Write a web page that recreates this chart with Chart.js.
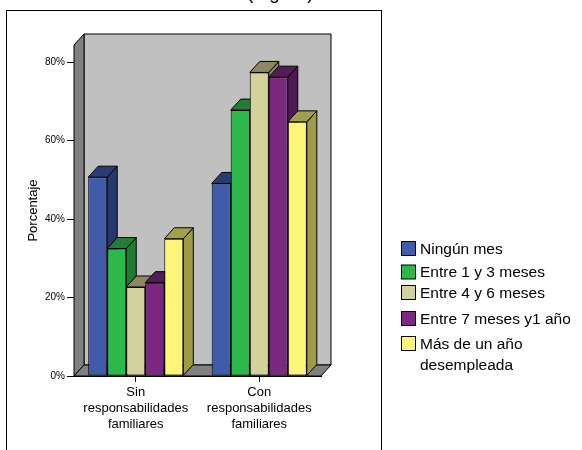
<!DOCTYPE html>
<html>
<head>
<meta charset="utf-8">
<script src="https://cdn.jsdelivr.net/npm/chart.js@4.4.1/dist/chart.umd.min.js"></script>
<style>
  body { margin: 0; background: #fff; }
  #wrap { position: relative; width: 582px; height: 450px; }
</style>
</head>
<body>
<div id="wrap"><canvas id="desempleoChart" width="582" height="450"></canvas></div>
<script>
// ===== DATOS =====
const categories = [
  ["Sin", "responsabilidades", "familiares"],
  ["Con", "responsabilidades", "familiares"],
];
const seriesNames = [
  "Ningún mes",
  "Entre 1 y 3 meses",
  "Entre 4 y 6 meses",
  "Entre 7 meses y1 año",
  ["Más de un año", "desempleada"],
];
const ningunMes = [50.7, 49.1];
const entre1y3 = [32.5, 67.8];
const entre4y6 = [22.7, 77.4];
const entre7y12 = [23.8, 76.2];
const masDeUnAno = [35.0, 64.8];
const yTicks = [0, 20, 40, 60, 80];

// colores: cara frontal, lateral, superior
const frontColors = ["#3f5baa", "#2db84b", "#d5d19c", "#7d2880", "#fbf677"];
const sideColors = ["#27386e", "#1f7a32", "#8a875f", "#4f1a53", "#9e9a48"];
const topColors = ["#2a3c76", "#237d35", "#8c8962", "#541d58", "#a3a04b"];

const DX = 10; // profundidad 3D
const DY = -11;
const FONT = "Arial, 'Liberation Sans', sans-serif";

// posiciones del legend (filas irregulares como en la figura)
const legendRowY = [248.5, 272, 292.5, 318.5, 343.5];

function poly(ctx, pts, fill) {
  ctx.beginPath();
  ctx.moveTo(pts[0][0], pts[0][1]);
  for (let i = 1; i < pts.length; i++) ctx.lineTo(pts[i][0], pts[i][1]);
  ctx.closePath();
  ctx.fillStyle = fill;
  ctx.fill();
  ctx.strokeStyle = "#000";
  ctx.lineWidth = 1;
  ctx.stroke();
}

/* ===== PAREDES + CARAS 3D ===== */
const box3d = {
  id: "box3d",
  beforeDatasetsDraw(chart) {
    const ctx = chart.ctx;
    const a = chart.chartArea;
    const L = a.left, R = a.right, T = a.top, B = a.bottom;
    ctx.save();
    // pared trasera
    poly(ctx, [[L + DX, T + DY], [R + DX, T + DY], [R + DX, B + DY], [L + DX, B + DY]], "#c0c0c0");
    // pared izquierda
    poly(ctx, [[L, T], [L + DX, T + DY], [L + DX, B + DY], [L, B]], "#808080");
    // suelo
    poly(ctx, [[L, B], [L + DX, B + DY], [R + DX, B + DY], [R, B]], "#808080");

    // caras laterales y superiores, de izquierda a derecha
    let bars = [];
    chart.data.datasets.forEach((ds, i) => {
      chart.getDatasetMeta(i).data.forEach((el) => {
        bars.push({ el: el, i: i });
      });
    });
    bars.sort((p, q) => p.el.x - q.el.x);
    bars.forEach((b) => {
      const el = b.el;
      const xl = el.x - el.width / 2;
      const xr = el.x + el.width / 2;
      const yt = el.y;
      const yb = el.base;
      poly(ctx, [[xr, yt], [xr + DX, yt + DY], [xr + DX, yb + DY], [xr, yb]], sideColors[b.i]);
      poly(ctx, [[xl, yt], [xl + DX, yt + DY], [xr + DX, yt + DY], [xr, yt]], topColors[b.i]);
    });
    ctx.restore();
  },
  afterDraw(chart) {
    const ctx = chart.ctx;
    const a = chart.chartArea;
    ctx.save();
    // marco
    ctx.strokeStyle = "#000";
    ctx.lineWidth = 1;
    ctx.strokeRect(6.5, 10.5, 375, 460);

    // titulo (cortado arriba)
    ctx.fillStyle = "#000";
    ctx.font = "19px " + FONT;
    ctx.textAlign = "left";
    ctx.textBaseline = "alphabetic";
    ctx.fillText("(Figura)", 247, -1);

    // titulo eje Y
    ctx.save();
    ctx.translate(33, (a.top + a.bottom) / 2);
    ctx.rotate(-Math.PI / 2);
    ctx.font = "13px " + FONT;
    ctx.textAlign = "center";
    ctx.textBaseline = "middle";
    ctx.fillText("Porcentaje", 0, 0);
    ctx.restore();

    // leyenda
    ctx.font = "15.5px " + FONT;
    ctx.textAlign = "left";
    ctx.textBaseline = "middle";
    chart.data.datasets.forEach((ds, i) => {
      const y = legendRowY[i];
      ctx.fillStyle = frontColors[i];
      ctx.fillRect(401.5, y - 7, 14, 14);
      ctx.strokeStyle = "#000";
      ctx.strokeRect(401.5, y - 7, 14, 14);
      ctx.fillStyle = "#000";
      const lines = Array.isArray(ds.label) ? ds.label : [ds.label];
      lines.forEach((t, k) => {
        ctx.fillText(t, 420, y + 1 + k * 21);
      });
    });
    ctx.restore();
  },
};

const seriesData = [ningunMes, entre1y3, entre4y6, entre7y12, masDeUnAno];

new Chart(document.getElementById("desempleoChart"), {
  type: "bar",
  data: {
    labels: categories,
    datasets: seriesData.map((vals, i) => ({
      label: seriesNames[i],
      data: vals,
      backgroundColor: frontColors[i],
      borderColor: "#000",
      borderWidth: 1,
      borderSkipped: false,
      categoryPercentage: 0.77,
      barPercentage: 1.0,
    })),
  },
  options: {
    responsive: false,
    animation: false,
    layout: { padding: { left: 0, top: 45, right: 261, bottom: 0 } },
    plugins: {
      legend: { display: false },
      tooltip: { enabled: false },
    },
    scales: {
      x: {
        afterFit: (scale) => { scale.height = 74; },
        grid: { drawOnChartArea: false, offset: false, tickLength: 6, color: "#000" },
        border: { color: "#000" },
        ticks: {
          color: "#000",
          font: { family: FONT, size: 13, lineHeight: 1.23 },
          padding: 2,
          maxRotation: 0,
          autoSkip: false,
        },
      },
      y: {
        min: 0,
        max: 84.4,
        afterFit: (scale) => { scale.width = 74; },
        afterBuildTicks: (scale) => { scale.ticks = yTicks.map((v) => ({ value: v })); },
        grid: { drawOnChartArea: false, tickLength: 7, color: "#000" },
        border: { color: "#000" },
        ticks: {
          color: "#000",
          font: { family: FONT, size: 10 },
          padding: 2,
          callback: (v) => v + "%",
        },
      },
    },
  },
  plugins: [box3d],
});
</script>
</body>
</html>
